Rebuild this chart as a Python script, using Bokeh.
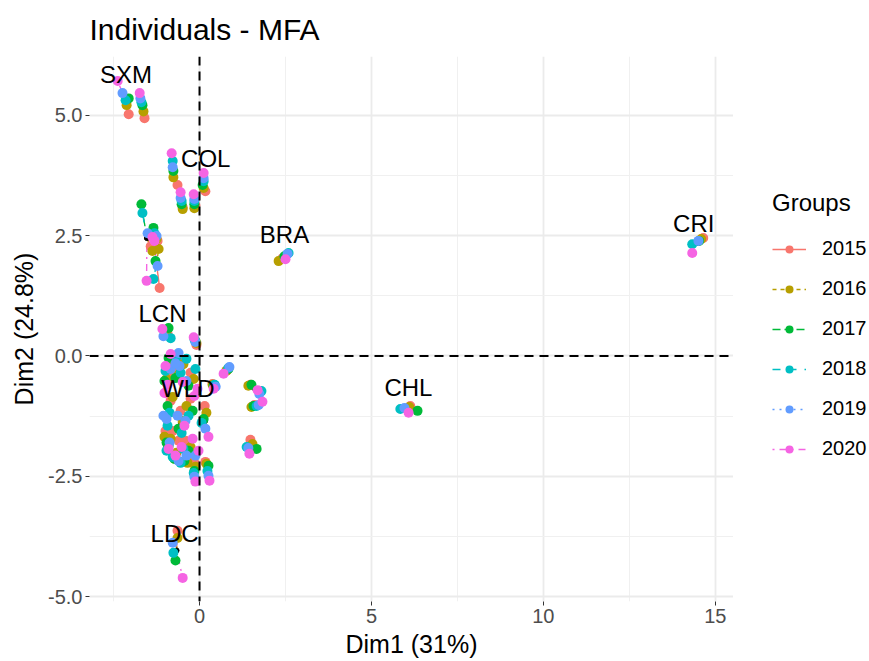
import numpy as np
from bokeh.plotting import figure
from bokeh.layouts import row
from bokeh.models import (ColumnDataSource, Span, Legend, LegendItem,
                          FixedTicker, PrintfTickFormatter)
from bokeh.core.properties import value
from bokeh.embed import file_html
from bokeh.resources import INLINE

FONT = "Liberation Sans"

# groups (years) and their partial-point coordinates, one entry per individual
years = ["2015", "2016", "2017", "2018", "2019", "2020"]

labels = ["SXM", "", "COL", "", "", "", "", "", "", "LCN", "", "", "WLD", "", "", "",
          "CHL", "CRI", "BRA", "LDC", "", "", "", "", "", "", "", "", "", "", "", "",
          "", "", "", ""]

x2015 = [-2.06, -1.60, 0.17, -0.64, -0.49, -0.12, -1.42, -1.16, -1.22, -0.93, -0.09, 0.81, 0.38, 1.48, 1.60, 1.48,
         6.13, 14.65, 2.41, -0.64, -0.15, 0.17, -0.78, -0.90, -0.67, -0.84, -0.26, -0.55, -0.78, -0.41, -0.61, 0.15,
         -0.99, -0.26, -0.52, -0.26]
y2015 = [5.02, 4.94, 3.42, 3.55, 3.09, 3.13, 2.28, 1.41, 2.39, 0.46, 0.23, -0.29, -0.58, -0.60, -1.02, -1.74,
         -1.04, 2.45, 2.03, -3.63, -2.22, -2.20, -0.15, -0.35, -0.27, -0.93, -0.89, -1.14, -1.56, -1.76, -1.76, -1.04,
         -1.56, -0.35, -0.10, -2.14]
x2016 = [-2.12, -1.63, 0.12, -0.76, -0.49, -0.15, -1.37, -1.19, -1.25, -0.96, -0.09, 0.78, 0.38, 1.42, 1.51, 1.54,
         6.10, 14.59, 2.30, -0.64, -0.12, 0.20, -0.81, -0.96, -0.61, -0.78, -0.38, -0.49, -0.84, -0.26, -0.67, 0.20,
         -1.02, -0.17, -0.47, -0.35]
y2016 = [5.21, 5.08, 3.49, 3.71, 3.05, 3.07, 2.18, 2.22, 2.43, 0.44, 0.27, -0.31, -0.60, -0.62, -1.06, -1.83,
         -1.06, 2.43, 1.97, -3.78, -2.30, -2.24, -0.10, -0.48, -0.39, -0.85, -1.04, -1.35, -1.72, -1.89, -2.01, -1.18,
         -1.68, -0.48, -0.17, -2.22]
x2017 = [-2.06, -1.66, 0.09, -0.76, -0.52, -0.15, -1.69, -1.28, -1.34, -0.90, -0.12, 0.84, 0.41, 1.51, 1.57, 1.66,
         6.34, 14.53, 2.47, -0.70, -0.15, 0.26, -0.73, -1.02, -0.70, -0.93, -0.20, -0.61, -0.90, -0.32, -0.73, 0.12,
         -0.96, -0.32, -0.90, -0.44]
y2017 = [5.35, 5.21, 3.55, 3.84, 3.15, 3.15, 3.15, 1.97, 2.66, 0.58, 0.31, -0.27, -0.62, -0.60, -1.04, -1.93,
         -1.14, 2.39, 2.07, -4.25, -2.39, -2.28, -0.06, -0.52, -0.46, -1.04, -1.14, -1.51, -1.87, -1.97, -2.14, -1.31,
         -1.80, -0.62, -0.04, -2.18]
x2018 = [-2.15, -1.69, 0.12, -0.78, -0.52, -0.15, -1.66, -1.34, -1.31, -0.84, -0.15, 0.84, 0.44, 1.80, 1.66, 1.37,
         5.84, 14.33, 2.59, -0.76, -0.17, 0.23, -0.67, -0.99, -0.55, -0.87, -0.32, -0.52, -0.96, -0.47, -0.78, 0.06,
         -0.93, -0.12, -0.38, -0.55]
y2018 = [5.31, 5.27, 3.63, 4.05, 3.22, 3.22, 2.97, 1.60, 2.55, 0.37, 0.35, -0.25, -0.60, -0.73, -1.04, -1.89,
         -1.10, 2.32, 2.14, -4.09, -2.43, -2.39, -0.02, -0.31, -0.35, -1.18, -1.24, -1.60, -1.97, -1.93, -2.10, -1.39,
         -1.45, -0.27, -0.06, -2.22]
x2019 = [-2.24, -1.72, 0.12, -0.78, -0.55, -0.15, -1.51, -1.22, -1.25, -1.05, -0.12, 0.87, 0.47, 1.74, 1.72, 1.42,
         5.96, 14.51, 2.56, -0.78, -0.15, 0.26, -0.61, -0.84, -0.58, -0.96, -0.41, -0.64, -0.87, -0.38, -0.61, 0.17,
         -1.05, -0.38, -0.70, -0.12]
y2019 = [5.46, 5.35, 3.69, 3.92, 3.28, 3.26, 2.55, 1.87, 2.49, 0.41, 0.29, -0.23, -0.64, -0.79, -1.02, -1.91,
         -1.08, 2.39, 2.12, -3.88, -2.51, -2.49, 0.06, -0.27, -0.21, -1.31, -1.35, -1.24, -1.80, -2.07, -2.18, -1.51,
         -1.24, -0.52, -0.15, -2.07]
x2020 = [-2.38, -1.74, 0.12, -0.81, -0.55, -0.17, -1.54, -1.31, -1.37, -1.08, -0.17, 0.70, 0.41, 1.69, 1.83, 1.45,
         6.08, 14.33, 2.50, -0.49, -0.12, 0.29, -0.84, -0.93, -0.49, -1.02, -0.15, -0.44, -0.70, -0.20, -0.52, 0.26,
         -0.90, -0.06, -0.99, -0.03]
y2020 = [5.71, 5.46, 3.80, 4.21, 3.40, 3.36, 1.56, 2.39, 2.47, 0.56, 0.39, -0.37, -0.68, -0.71, -0.95, -2.03,
         -1.18, 2.14, 2.01, -4.61, -2.61, -2.59, 0.04, -0.60, -0.54, -0.77, -0.83, -1.45, -2.07, -1.72, -1.89, -1.68,
         -1.93, -0.68, -0.21, -1.97]

x_ticks = [0, 5, 10, 15]
y_ticks = [-5.0, -2.5, 0.0, 2.5, 5.0]

# styling per group (ggplot hue palette and linetypes)
colors = ["#F8766D", "#B79F00", "#00BA38", "#00BFC4", "#619CFF", "#F564E3"]
dashes = ["solid", "4 4", "8 4", "8 8", "2 5", "2 5 7 5"]
LINE_W = 1.4
PT_SIZE = 10

# label placement in screen pixels relative to the individual point
label_offsets = {"SXM": (1, -24), "COL": (2, -24), "LCN": (-4, -20), "WLD": (-26, 3),
                 "CHL": (0, -21), "CRI": (-4, -19), "BRA": (0, -22), "LDC": (-2, -17)}

part_x = np.array([x2015, x2016, x2017, x2018, x2019, x2020])
part_y = np.array([y2015, y2016, y2017, y2018, y2019, y2020])
# an MFA individual sits at the barycentre of its partial points
mean_x = part_x.mean(axis=0)
mean_y = part_y.mean(axis=0)

p = figure(width=733, height=661, x_range=(-3.2, 15.53), y_range=(-5.1, 6.22),
           output_backend="svg", toolbar_location=None,
           min_border_left=89, min_border_right=0, min_border_top=55, min_border_bottom=60,
           background_fill_color="white", border_fill_color="white")
p.outline_line_color = None

p.title.text = "Individuals - MFA"
p.title.text_font = FONT
p.title.text_font_size = "30px"
p.title.text_font_style = "normal"
p.title.text_color = "black"
p.title.align = "left"
p.title.standoff = 21

p.xaxis.ticker = FixedTicker(ticks=x_ticks, minor_ticks=[-2.5, 2.5, 7.5, 12.5])
p.yaxis.ticker = FixedTicker(ticks=y_ticks, minor_ticks=[-3.75, -1.25, 1.25, 3.75])
p.yaxis.formatter = PrintfTickFormatter(format="%.1f")
p.xaxis.axis_label = "Dim1 (31%)"
p.yaxis.axis_label = "Dim2 (24.8%)"
for ax in (p.xaxis, p.yaxis):
    ax.axis_line_color = None
    ax.major_tick_line_color = "#333333"
    ax.major_tick_out = 4
    ax.major_tick_in = 0
    ax.minor_tick_line_color = None
    ax.major_label_text_font = FONT
    ax.major_label_text_font_size = "20px"
    ax.major_label_text_color = "#4D4D4D"
    ax.major_label_standoff = 3
    ax.axis_label_text_font = FONT
    ax.axis_label_text_font_size = "25px"
    ax.axis_label_text_font_style = "normal"
    ax.axis_label_text_color = "black"
p.xaxis.axis_label_standoff = 4
p.yaxis.axis_label_standoff = 7

for g in (p.xgrid, p.ygrid):
    g.grid_line_color = "#EBEBEB"
    g.grid_line_width = 1.8
    g.minor_grid_line_color = "#F0F0F0"
    g.minor_grid_line_width = 1.0

p.add_layout(Span(location=0, dimension="height", line_color="black", line_dash="9 6", line_width=2))
p.add_layout(Span(location=0, dimension="width", line_color="black", line_dash="9 6", line_width=2))

sources = []
for i, yr in enumerate(years):
    src = ColumnDataSource(dict(x0=mean_x, y0=mean_y, x1=part_x[i], y1=part_y[i]))
    p.segment("x0", "y0", "x1", "y1", source=src, line_color=colors[i],
              line_dash=dashes[i], line_width=LINE_W)
    sources.append(src)

p.scatter(mean_x, mean_y, size=5, color="black")

for i, yr in enumerate(years):
    p.scatter("x1", "y1", source=sources[i], size=PT_SIZE, fill_color=colors[i], line_color=None)

lab_idx = [k for k, t in enumerate(labels) if t]
lab_src = ColumnDataSource(dict(
    x=mean_x[lab_idx], y=mean_y[lab_idx], text=[labels[k] for k in lab_idx],
    dx=[label_offsets[labels[k]][0] for k in lab_idx],
    dy=[label_offsets[labels[k]][1] for k in lab_idx]))
p.text("x", "y", text="text", x_offset="dx", y_offset="dy", source=lab_src,
       text_font=value(FONT), text_font_size="24px", text_color="black",
       text_align="center", text_baseline="middle")

# legend panel to the right of the plotting area; its key glyphs carry no
# drawable data, they only supply the line and marker styles for the keys
lf = figure(width=136, height=661, output_backend="svg", toolbar_location=None,
            x_axis_type=None, y_axis_type=None, min_border=0,
            background_fill_color="white", border_fill_color="white")
lf.outline_line_color = None
lf.grid.visible = False
items = []
for i, yr in enumerate(years):
    key_src = ColumnDataSource(dict(x0=[np.nan], y0=[np.nan], x1=[np.nan], y1=[np.nan]))
    s = lf.segment("x0", "y0", "x1", "y1", source=key_src, line_color=colors[i],
                   line_dash=dashes[i], line_width=LINE_W)
    c = lf.scatter("x1", "y1", source=key_src, size=8, fill_color=colors[i], line_color=None)
    items.append(LegendItem(label=yr, renderers=[s, c]))
legend = Legend(items=items, location=(39, 141), title="Groups",
                title_text_font=FONT, title_text_font_size="24px", title_text_font_style="normal",
                title_text_color="black", title_standoff=20,
                label_text_font=FONT, label_text_font_size="20px", label_text_color="black",
                glyph_width=34, glyph_height=20, label_height=20, label_standoff=16,
                spacing=17, padding=0, margin=0, border_line_color=None,
                background_fill_alpha=0)
lf.add_layout(legend)

layout = row(p, lf, spacing=0)
open("out.html", "w").write(file_html(layout, INLINE))
